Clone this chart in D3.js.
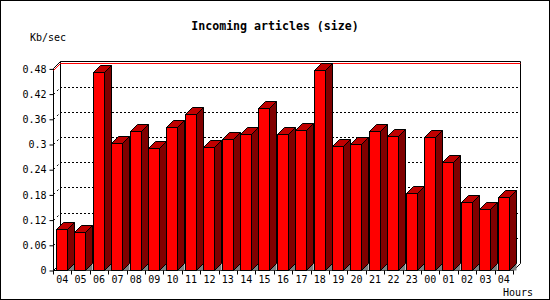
<!DOCTYPE html>
<html><head><meta charset="utf-8">
<script src="https://cdn.jsdelivr.net/npm/d3@7"></script>
<style>
html,body{margin:0;padding:0;background:#fff;}
svg{display:block;}
text{font-family:"DejaVu Sans Mono","Liberation Mono",monospace;fill:#000;}
</style></head>
<body>
<script>
const hours = ["04","05","06","07","08","09","10","11","12","13","14","15","16","17","18","19","20","21","22","23","00","01","02","03","04"];
const values = [0.097,0.091,0.471,0.302,0.332,0.290,0.340,0.371,0.292,0.311,0.325,0.385,0.325,0.333,0.476,0.295,0.299,0.330,0.318,0.184,0.316,0.256,0.161,0.1445,0.175];
const yTicks = [0,0.06,0.12,0.18,0.24,0.30,0.36,0.42,0.48];
const yTickLabels = ["0","0.06","0.12","0.18","0.24","0.3","0.36","0.42","0.48"];
const title = "Incoming articles (size)";
const yUnit = "Kb/sec";
const xUnit = "Hours";

const W = 550, H = 300, D = 7;
const svg = d3.select("body").append("svg").attr("width", W).attr("height", H);

svg.append("rect").attr("x",0.5).attr("y",0.5).attr("width",W-1).attr("height",H-1)
  .attr("fill","#fff").attr("stroke","#000");

const x = d3.scaleLinear().domain([0, hours.length]).range([53, 513]);
const xb = d3.scaleBand().domain(d3.range(hours.length)).range([53, 513]);
const y = d3.scaleLinear().domain([0, 0.48]).range([270, 68.4]);

const px = v => Math.round(v) + 0.5;
const X0 = x(0), X1 = x(hours.length), Yb = y(0), Yt = y(0.48);

// back wall grid lines (dotted)
const grid = svg.append("g");
yTicks.slice(1, -1).forEach(t => {
  const yy = px(y(t) - D);
  grid.append("line").attr("x1", X0 + D).attr("x2", X1 + D).attr("y1", yy).attr("y2", yy)
    .attr("stroke","#000").attr("stroke-dasharray","2,2");
  grid.append("line").attr("x1", px(X0)).attr("y1", Math.round(y(t)) + 0.5).attr("x2", px(X0 + D)).attr("y2", yy)
    .attr("stroke","#000").attr("stroke-dasharray","2,3");
});

// walls
const frame = svg.append("g").attr("stroke","#000").attr("fill","none");
frame.append("path").attr("d",
  `M${px(X0)},${px(Yb)} V${px(Yt)} L${px(X0 + D)},${px(Yt - D)} H${px(X1 + D)} V${px(Yb - D)} L${px(X1)},${px(Yb)} H${px(X0)} L${px(X0 + D)},${px(Yb - D)} V${px(Yt - D)}`);

// max line (red)
const vmax = d3.max(values);
const ym = y(vmax);
svg.append("path").attr("fill","none").attr("stroke","#f00")
  .attr("d", `M${px(X0)},${px(ym)} L${px(X0 + D)},${px(ym - D)} H${px(X1 + D)}`);

// bars
const bars = svg.append("g").attr("stroke","#000").attr("stroke-width",1).attr("stroke-linejoin","miter");
values.forEach((v, i) => {
  const xl = Math.round(x(i) + 3) + 0.5, xr = xl + 11;
  const yt = Math.round(y(v)) + 0.5, yb = Math.round(Yb) + 0.5;
  bars.append("path").attr("fill","#808080").attr("stroke","none")
    .attr("d", `M${xr},${yb} L${xr + D},${yb - D} V${yb} Z`);
  bars.append("path").attr("fill","#800000")
    .attr("d", `M${xr},${yt} L${xr + D},${yt - D} V${yb - D} L${xr},${yb} Z`);
  bars.append("path").attr("fill","#c00000")
    .attr("d", `M${xl},${yt} L${xl + D},${yt - D} H${xr + D} L${xr},${yt} Z`);
  bars.append("rect").attr("x", xl).attr("y", yt).attr("width", xr - xl).attr("height", yb - yt)
    .attr("fill","#f00");
});

// y axis
const yAxis = d3.axisLeft(y).tickValues(yTicks).tickFormat((d, i) => yTickLabels[i]).tickSize(4).tickPadding(3);
const ga = svg.append("g").attr("transform", `translate(${px(X0)},0.5)`).call(yAxis);
ga.select(".domain").remove();
ga.selectAll("text").attr("font-size", 10).attr("font-family", "DejaVu Sans Mono");
ga.selectAll("line").attr("stroke","#000");

// x axis
const xAxis = d3.axisBottom(xb).tickSize(0).tickPadding(5).tickFormat(i => hours[i]);
const gx = svg.append("g").attr("transform", `translate(0,${px(Yb)})`).call(xAxis);
gx.select(".domain").remove();
gx.selectAll("text").attr("font-size", 10).attr("font-family", "DejaVu Sans Mono");
svg.append("g").selectAll("line").data(d3.range(hours.length + 1)).join("line")
  .attr("x1", i => px(x(i))).attr("x2", i => px(x(i)))
  .attr("y1", px(Yb)).attr("y2", px(Yb) + 4).attr("stroke","#000");

// titles
svg.append("text").attr("x", W / 2).attr("y", 30).attr("text-anchor","middle")
  .attr("font-size", 11.6).attr("font-weight","bold").text(title);
svg.append("text").attr("x", 30).attr("y", 41).attr("font-size", 10).text(yUnit);
svg.append("text").attr("x", 533).attr("y", 296).attr("text-anchor","end").attr("font-size", 10).text(xUnit);
</script>
</body></html>
